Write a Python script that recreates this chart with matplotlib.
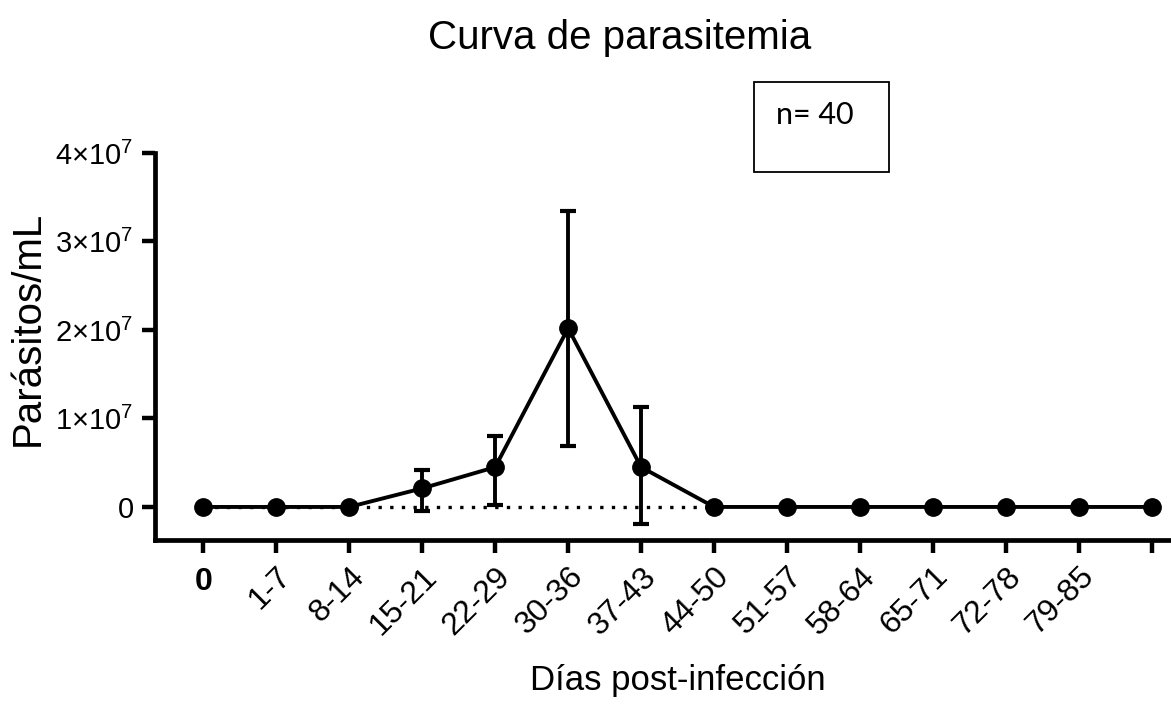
import matplotlib
matplotlib.use('Agg')
import numpy as np
import matplotlib.pyplot as plt
from matplotlib.patches import Rectangle
from matplotlib.transforms import blended_transform_factory

plt.rcParams['font.family'] = ['Liberation Sans', 'DejaVu Sans']
plt.rcParams['mathtext.fontset'] = 'custom'
plt.rcParams['mathtext.rm'] = 'Liberation Sans'

# semanas post-infeccion y parasitemia media (parasitos/mL)
grupos = ['0', '1-7', '8-14', '15-21', '22-29', '30-36', '37-43', '44-50',
          '51-57', '58-64', '65-71', '72-78', '79-85', '']
media = [0, 0, 0, 2.1e6, 4.5e6, 2.02e7, 4.5e6, 0, 0, 0, 0, 0, 0, 0]
err_inf = [0, 0, 0, 2.6e6, 4.3e6, 1.33e7, 6.4e6, 0, 0, 0, 0, 0, 0, 0]
err_sup = [0, 0, 0, 2.1e6, 3.5e6, 1.32e7, 6.8e6, 0, 0, 0, 0, 0, 0, 0]
n_total = 40

x = np.arange(len(grupos))

fig = plt.figure(figsize=(11.71, 7.04), dpi=100)
ax = fig.add_axes([0.1324, 0.2330, 0.8676, 0.5497])

# linea base punteada hasta 44-50
ax.plot(x[:8], np.zeros(8), color='black', linestyle=(0, (1, 2.5)), linewidth=2.4, zorder=1)

ax.errorbar(x, media, yerr=[err_inf, err_sup], color='black', marker='o',
            markersize=12.5, linewidth=2.8, elinewidth=2.8, capsize=6, capthick=3,
            zorder=3, clip_on=False)

ax.set_xlim(-0.66, 13.26)
ax.set_ylim(-0.373e7, 4e7)
ax.set_yticks([0, 1e7, 2e7, 3e7, 4e7])
ax.set_yticklabels(['0', r'$1{\times}10^{7}$', r'$2{\times}10^{7}$',
                    r'$3{\times}10^{7}$', r'$4{\times}10^{7}$'], fontsize=21)
ax.set_xticks(x)
# el "0" va aparte, en negrita y sin girar
ax.set_xticklabels([''] + grupos[1:], rotation=45, ha='right', va='top',
                   rotation_mode='anchor', fontsize=23)
trans = blended_transform_factory(ax.transData, ax.transAxes)
ax.text(x[0], -0.108, grupos[0], transform=trans, ha='center', va='center',
        fontsize=23, fontweight='bold')

for s in ['top', 'right']:
    ax.spines[s].set_visible(False)
for s in ['left', 'bottom']:
    ax.spines[s].set_linewidth(3.4)
ax.tick_params(axis='both', length=9.5, width=3.2, pad=6)

ax.set_ylabel('Parásitos/mL', fontsize=29, va='center')
ax.yaxis.set_label_coords(-0.125, 0.548)
ax.set_xlabel('Días post-infección', fontsize=25, va='center')
ax.xaxis.set_label_coords(0.515, -0.362)
fig.text(0.529, 1 - 38 / 704, 'Curva de parasitemia', fontsize=29, ha='center', va='center')

# recuadro con el tamano de muestra
fig.patches.append(Rectangle((754 / 1171, 1 - 172 / 704), 135 / 1171, 90 / 704,
                             transform=fig.transFigure, fill=False,
                             edgecolor='black', linewidth=1.3))
fig.text(776 / 1171, 1 - 115 / 704, 'n= %d' % n_total, fontsize=22,
         family=['Lato', 'DejaVu Sans'], va='center')

fig.savefig('out.png', dpi=100)
